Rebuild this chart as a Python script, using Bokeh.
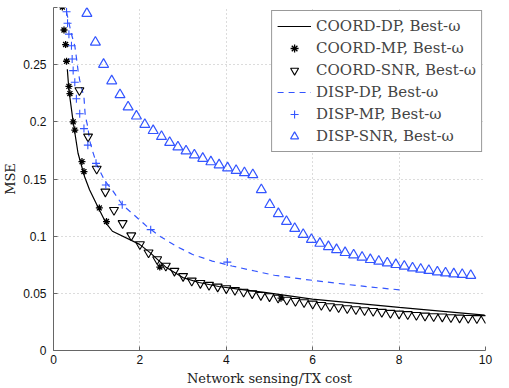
from bokeh.plotting import figure
from bokeh.models import Range1d, FixedTicker, Legend
from bokeh.embed import file_html
from bokeh.resources import INLINE

# ---------------- data ----------------
coord_dp_x = [0.32, 0.357, 0.455, 0.568, 0.72, 0.834, 1.023, 1.211, 1.364, 1.993, 2.234, 2.614,
              2.993, 3.37, 3.825, 4.28, 4.886, 5.99, 8.0, 9.98]
coord_dp_y = [0.246, 0.2276, 0.200, 0.1725, 0.152, 0.1406, 0.126, 0.1117, 0.1043, 0.0928, 0.0856,
              0.0725, 0.0638, 0.0595, 0.056, 0.0537, 0.0508, 0.045, 0.0377, 0.031]

coord_mp_x = [0.205, 0.243, 0.280, 0.302, 0.357, 0.380, 0.455, 0.493, 0.659, 0.705, 1.061, 1.227,
              2.461, 5.266]
coord_mp_y = [0.3004, 0.2803, 0.2676, 0.2530, 0.2310, 0.2247, 0.2000, 0.1928, 0.1652, 0.1565,
              0.1247, 0.1128, 0.0730, 0.0458]

coord_snr_x = [0.6, 0.8, 1.0, 1.2, 1.4, 1.6, 1.8, 2.0, 2.2, 2.4, 2.6, 2.8, 3.0, 3.2, 3.4, 3.6,
               3.8, 4.0, 4.2, 4.4, 4.6, 4.8, 5.0, 5.2, 5.4, 5.6, 5.8, 6.0, 6.2, 6.4, 6.6, 6.8,
               7.0, 7.2, 7.4, 7.6, 7.8, 8.0, 8.2, 8.4, 8.6, 8.8, 9.0, 9.2, 9.4, 9.6, 9.8, 10.0]
coord_snr_y = [0.2276, 0.1870, 0.1589, 0.1389, 0.1228, 0.1113, 0.1006, 0.0928, 0.0856, 0.0797,
               0.0741, 0.0696, 0.0650, 0.0610, 0.0589, 0.0573, 0.0558, 0.0543, 0.0528, 0.0513,
               0.0499, 0.0484, 0.0473, 0.0461, 0.0443, 0.0432, 0.0421, 0.0409, 0.0397, 0.0386,
               0.0377, 0.0369, 0.0360, 0.0351, 0.0345, 0.0337, 0.0328, 0.0322, 0.0317, 0.0310,
               0.0304, 0.0299, 0.0296, 0.0290, 0.0287, 0.0284, 0.0282, 0.0282]

disp_dp_x = [0.30, 0.416, 0.493, 0.530, 0.568, 0.607, 0.705, 0.734, 0.795, 0.834, 0.909, 1.007,
             1.175, 1.386, 1.591, 1.857, 2.159, 2.461, 2.841, 3.220, 3.675, 4.130, 4.659, 5.114,
             5.795, 6.552, 7.311, 8.107]
disp_dp_y = [0.2963, 0.2766, 0.2665, 0.2563, 0.2450, 0.2362, 0.2216, 0.2057, 0.1955, 0.1840,
             0.1738, 0.1623, 0.1492, 0.1390, 0.1275, 0.1188, 0.1086, 0.1000, 0.0912, 0.0840,
             0.0782, 0.0739, 0.0695, 0.0658, 0.0623, 0.0588, 0.0556, 0.0527]

disp_mp_x = [0.302, 0.325, 0.357, 0.416, 0.432, 0.455, 0.493, 0.530, 0.607, 0.705, 0.795, 0.984,
             1.211, 1.591, 2.250, 4.023]
disp_mp_y = [0.2963, 0.2862, 0.2767, 0.2665, 0.2549, 0.2448, 0.2346, 0.2202, 0.2071, 0.1941,
             0.1796, 0.1637, 0.1448, 0.1275, 0.1057, 0.0773]

disp_snr_x = [0.773, 0.970, 1.159, 1.348, 1.539, 1.727, 1.920, 2.114, 2.307, 2.500, 2.689, 2.880,
              3.068, 3.261, 3.455, 3.643, 3.834, 4.030, 4.227, 4.420, 4.614, 4.811, 5.007, 5.205,
              5.393, 5.584, 5.780, 5.970, 6.166, 6.364, 6.552, 6.750, 6.948, 7.143, 7.334, 7.530,
              7.727, 7.925, 8.120, 8.311, 8.500, 8.689, 8.886, 9.075, 9.266, 9.461, 9.659]
disp_snr_y = [0.2948, 0.2696, 0.2502, 0.2358, 0.2237, 0.2130, 0.2050, 0.1976, 0.1923, 0.1871,
              0.1819, 0.1780, 0.1745, 0.1710, 0.1680, 0.1650, 0.1623, 0.1597, 0.1574, 0.1554,
              0.1537, 0.1406, 0.1276, 0.1197, 0.1128, 0.1067, 0.1015, 0.0971, 0.0937, 0.0908,
              0.0882, 0.0856, 0.0835, 0.0815, 0.0795, 0.0780, 0.0765, 0.0751, 0.0737, 0.0722,
              0.0710, 0.0699, 0.0687, 0.0678, 0.0670, 0.0664, 0.0656]

x_ticks = [0, 2, 4, 6, 8, 10]
y_ticks = [0, 0.05, 0.1, 0.15, 0.2, 0.25, 0.3]
y_tick_labels = ["0", "0.05", "0.1", "0.15", "0.2", "0.25", ""]

labels = ["COORD-DP, Best-\u03c9", "COORD-MP, Best-\u03c9", "COORD-SNR, Best-\u03c9",
          "DISP-DP, Best-\u03c9", "DISP-MP, Best-\u03c9", "DISP-SNR, Best-\u03c9"]

BLACK = "#000000"
BLUE = "#3355ff"
SERIF = "DejaVu Serif"
SANS = "Liberation Sans"

# ---------------- figure ----------------
p = figure(width=509, height=388, output_backend="svg", toolbar_location=None,
           x_range=Range1d(0, 10), y_range=Range1d(0, 0.3),
           min_border_left=45, min_border_right=24, min_border_top=7, min_border_bottom=36)
p.outline_line_color = None
p.background_fill_color = "white"

for ax in (p.xaxis[0], p.yaxis[0]):
    ax.axis_line_color = "#666666"
    ax.major_tick_line_color = "#666666"
    ax.major_tick_in = 4
    ax.major_tick_out = 0
    ax.minor_tick_line_color = None
    ax.major_label_text_font = SANS
    ax.major_label_text_font_size = "12px"
    ax.major_label_text_color = "#111111"
    ax.axis_label_text_font = SERIF
    ax.axis_label_text_font_size = "13px"
    ax.axis_label_text_font_style = "normal"
    ax.axis_label_text_color = "#222222"

p.xaxis[0].ticker = FixedTicker(ticks=x_ticks)
p.yaxis[0].ticker = FixedTicker(ticks=y_ticks)
p.yaxis[0].major_label_overrides = {t: l for t, l in zip(y_ticks, y_tick_labels)}
p.xaxis[0].major_label_standoff = 4
p.yaxis[0].major_label_standoff = 7
p.xaxis[0].axis_label = "Network sensing/TX cost"
p.yaxis[0].axis_label = "MSE"
p.xaxis[0].axis_label_standoff = 4
p.yaxis[0].axis_label_standoff = 2

for g in (p.xgrid[0], p.ygrid[0]):
    g.grid_line_color = "#b8b8b8"
    g.grid_line_dash = "1 3"
    g.grid_line_width = 1

r1 = p.line(coord_dp_x, coord_dp_y, line_color=BLACK, line_width=1.2)
r4 = p.line(disp_dp_x, disp_dp_y, line_color=BLUE, line_width=1.2, line_dash="6 5")
r3 = p.scatter(coord_snr_x, coord_snr_y, marker="inverted_triangle", size=9,
               line_color=BLACK, fill_color=None, line_width=1.1)
r6 = p.scatter(disp_snr_x, disp_snr_y, marker="triangle", size=10,
               line_color=BLUE, fill_color=None, line_width=1.2)
r5 = p.scatter(disp_mp_x, disp_mp_y, marker="cross", size=8,
               line_color=BLUE, line_width=1.1)
r2 = p.scatter(coord_mp_x, coord_mp_y, marker="asterisk", size=7,
               line_color=BLACK, line_width=1.3)

legend = Legend(items=[(labels[0], [r1]), (labels[1], [r2]), (labels[2], [r3]),
                       (labels[3], [r4]), (labels[4], [r5]), (labels[5], [r6])],
                location="top_right")
legend.margin = 3
legend.padding = 5
legend.spacing = 2
legend.glyph_width = 34
legend.glyph_height = 20
legend.label_height = 20
legend.label_standoff = 5
legend.label_text_font = SERIF
legend.label_text_font_size = "15px"
legend.label_text_line_height = 1.0
legend.border_line_color = "#333333"
legend.border_line_width = 1
legend.background_fill_alpha = 1.0
p.add_layout(legend)

open("out.html", "w").write(file_html(p, INLINE))
